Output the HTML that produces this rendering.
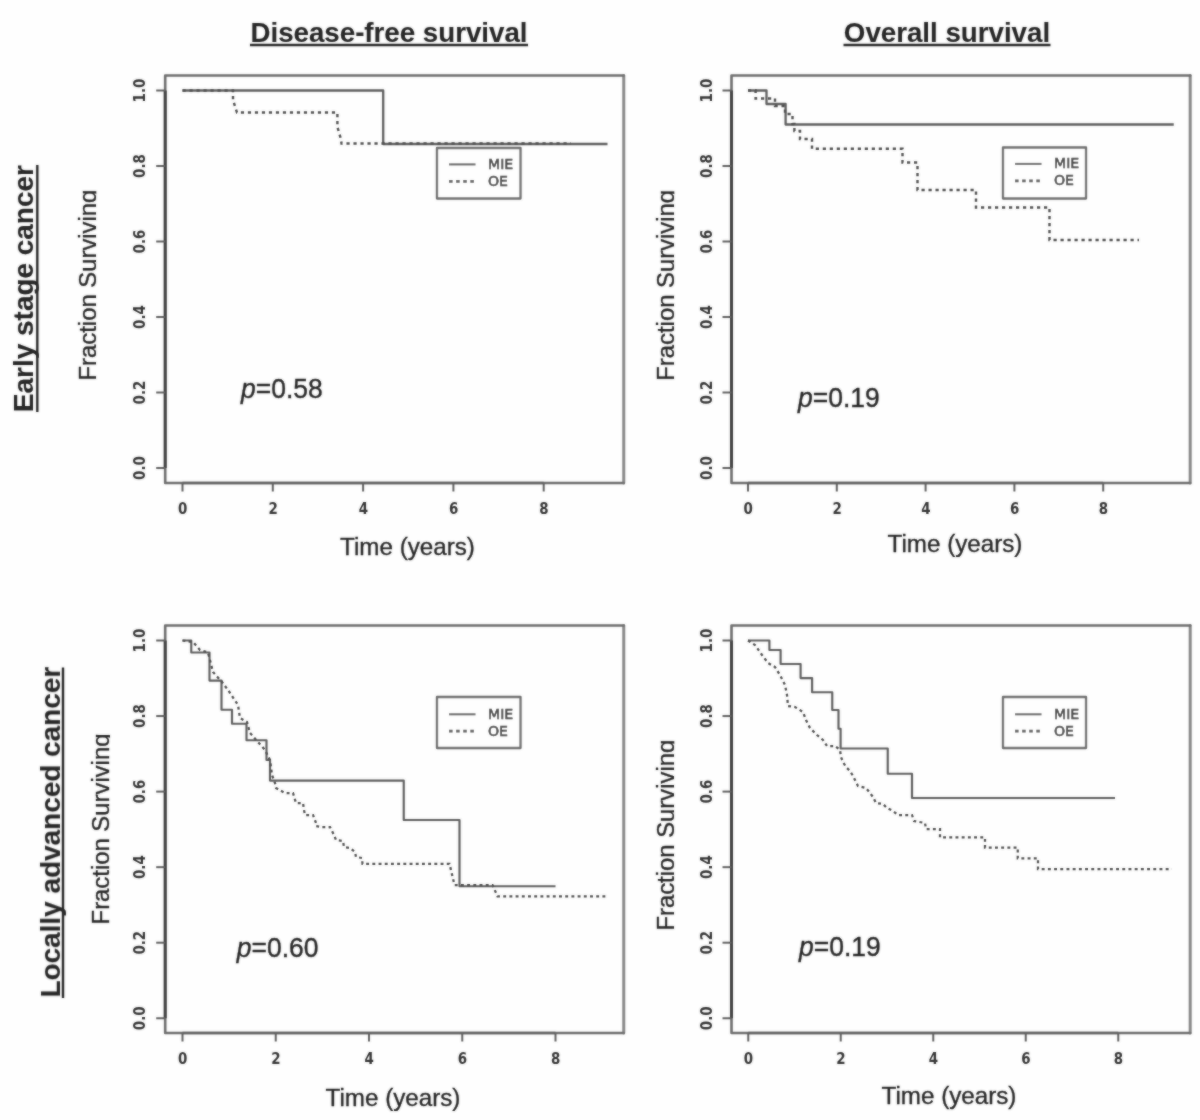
<!DOCTYPE html>
<html lang="en"><head><meta charset="utf-8"><title>Survival curves</title>
<style>
html,body{margin:0;padding:0;background:#fff;}
body{width:1200px;height:1120px;overflow:hidden;}
svg{display:block;}
.t{font-family:"Liberation Sans",sans-serif;fill:#262626;stroke:#262626;stroke-width:0.35px;}
.b{font-weight:bold;stroke-width:0.1px;}
.tk{font-family:"DejaVu Sans","Liberation Sans",sans-serif;font-weight:bold;font-size:16px;fill:#333;}
.lg{font-family:"DejaVu Sans","Liberation Sans",sans-serif;font-size:14.1px;fill:#262626;stroke:#262626;stroke-width:0.5px;}
</style></head><body>
<svg width="1200" height="1120" viewBox="0 0 1200 1120">
<defs><filter id="soft" x="0" y="0" width="1200" height="1120" filterUnits="userSpaceOnUse"><feGaussianBlur in="SourceGraphic" stdDeviation="0.8" result="b"/><feComposite in="SourceGraphic" in2="b" operator="arithmetic" k1="0" k2="0.5" k3="0.5" k4="0"/></filter></defs>
<rect x="0" y="0" width="1200" height="1120" fill="#fefefe"/>
<g filter="url(#soft)">
<text class="t b" x="389" y="41.7" font-size="27.7" text-anchor="middle">Disease-free survival</text>
<line x1="250" y1="45" x2="528" y2="45" stroke="#262626" stroke-width="2.3"/>
<text class="t b" x="947" y="41.7" font-size="27.7" text-anchor="middle">Overall survival</text>
<line x1="843.5" y1="45" x2="1050.5" y2="45" stroke="#262626" stroke-width="2.3"/>
<text class="t b" transform="translate(33.4 288.6) rotate(-90)" font-size="27.95" text-anchor="middle">Early stage cancer</text>
<line x1="37.3" y1="165" x2="37.3" y2="412" stroke="#262626" stroke-width="2.4"/>
<text class="t b" transform="translate(60 832.2) rotate(-90)" font-size="27.95" text-anchor="middle">Locally advanced cancer</text>
<line x1="63" y1="667.5" x2="63" y2="998" stroke="#262626" stroke-width="2.4"/>
<g id="panel0">
<path d="M623.75 75.5 V483" fill="none" stroke="#878787" stroke-width="3" stroke-linecap="round"/>
<path d="M623.75 75.5 H165.2 V483 H623.75" fill="none" stroke="#6c6c6c" stroke-width="2.6" stroke-linejoin="round" stroke-linecap="round"/>
<line x1="165.2" y1="90.5" x2="165.2" y2="468" stroke="#3e3e3e" stroke-width="3"/>
<line x1="182.5" y1="483" x2="543.7" y2="483" stroke="#626262" stroke-width="2.7"/>
<line x1="156.2" y1="468.00" x2="165.2" y2="468.00" stroke="#5e5e5e" stroke-width="2"/>
<text class="tk" transform="translate(145.2 468.00) rotate(-90) scale(0.84 1)" text-anchor="middle">0.0</text>
<line x1="156.2" y1="392.50" x2="165.2" y2="392.50" stroke="#5e5e5e" stroke-width="2"/>
<text class="tk" transform="translate(145.2 392.50) rotate(-90) scale(0.84 1)" text-anchor="middle">0.2</text>
<line x1="156.2" y1="317.00" x2="165.2" y2="317.00" stroke="#5e5e5e" stroke-width="2"/>
<text class="tk" transform="translate(145.2 317.00) rotate(-90) scale(0.84 1)" text-anchor="middle">0.4</text>
<line x1="156.2" y1="241.50" x2="165.2" y2="241.50" stroke="#5e5e5e" stroke-width="2"/>
<text class="tk" transform="translate(145.2 241.50) rotate(-90) scale(0.84 1)" text-anchor="middle">0.6</text>
<line x1="156.2" y1="166.00" x2="165.2" y2="166.00" stroke="#5e5e5e" stroke-width="2"/>
<text class="tk" transform="translate(145.2 166.00) rotate(-90) scale(0.84 1)" text-anchor="middle">0.8</text>
<line x1="156.2" y1="90.50" x2="165.2" y2="90.50" stroke="#5e5e5e" stroke-width="2"/>
<text class="tk" transform="translate(145.2 90.50) rotate(-90) scale(0.84 1)" text-anchor="middle">1.0</text>
<line x1="182.50" y1="483" x2="182.50" y2="491.5" stroke="#5e5e5e" stroke-width="2"/>
<text class="tk" transform="translate(182.80 514.2) scale(0.84 1)" text-anchor="middle">0</text>
<line x1="272.80" y1="483" x2="272.80" y2="491.5" stroke="#5e5e5e" stroke-width="2"/>
<text class="tk" transform="translate(273.10 514.2) scale(0.84 1)" text-anchor="middle">2</text>
<line x1="363.10" y1="483" x2="363.10" y2="491.5" stroke="#5e5e5e" stroke-width="2"/>
<text class="tk" transform="translate(363.40 514.2) scale(0.84 1)" text-anchor="middle">4</text>
<line x1="453.40" y1="483" x2="453.40" y2="491.5" stroke="#5e5e5e" stroke-width="2"/>
<text class="tk" transform="translate(453.70 514.2) scale(0.84 1)" text-anchor="middle">6</text>
<line x1="543.70" y1="483" x2="543.70" y2="491.5" stroke="#5e5e5e" stroke-width="2"/>
<text class="tk" transform="translate(544.00 514.2) scale(0.84 1)" text-anchor="middle">8</text>
<path d="M182.50 90.50 L383.20 90.50 L383.20 144.00 L607.50 144.00" fill="none" stroke="#5c5c5c" stroke-width="2.3" stroke-linejoin="round"/>
<path d="M182.50 90.50 L233.00 90.50 L233.00 100.00 L237.00 112.50 L337.40 112.50 L337.40 127.00 L340.75 138.50 L341.50 143.50 L571.00 143.50" fill="none" stroke="#4a4a4a" stroke-width="2.40" stroke-dasharray="3.2 3.8"/>
<rect x="437" y="148" width="83.5" height="50.5" fill="#fefefe" stroke="#6a6a6a" stroke-width="2.3" stroke-linejoin="round"/>
<line x1="449" y1="164.4" x2="475.5" y2="164.4" stroke="#555" stroke-width="2"/>
<line x1="449" y1="181.3" x2="475.5" y2="181.3" stroke="#4a4a4a" stroke-width="2.7" stroke-dasharray="3.6 3.5"/>
<text class="lg" x="488" y="168.7">MIE</text>
<text class="lg" x="488" y="185.5">OE</text>
<clipPath id="c0"><rect x="65.7" y="165.05" width="30.6" height="240"/></clipPath>
<g clip-path="url(#c0)"><text class="t" transform="translate(95.7 285.05) rotate(-90)" font-size="23.85" text-anchor="middle">Fraction Surviving</text></g>
<text class="t" x="407.5" y="555.2" font-size="24.2" text-anchor="middle">Time (years)</text>
<text class="t" transform="translate(241 398.4) scale(1 1.06)" font-size="26.5"><tspan font-style="italic">p</tspan>=0.58</text>
</g>
<g id="panel1">
<path d="M1190.2 75.5 V483" fill="none" stroke="#878787" stroke-width="3" stroke-linecap="round"/>
<path d="M1190.2 75.5 H731.5 V483 H1190.2" fill="none" stroke="#6c6c6c" stroke-width="2.6" stroke-linejoin="round" stroke-linecap="round"/>
<line x1="731.5" y1="90.5" x2="731.5" y2="468" stroke="#3e3e3e" stroke-width="3"/>
<line x1="748" y1="483" x2="1103.2" y2="483" stroke="#626262" stroke-width="2.7"/>
<line x1="722.5" y1="468.00" x2="731.5" y2="468.00" stroke="#5e5e5e" stroke-width="2"/>
<text class="tk" transform="translate(711.5 468.00) rotate(-90) scale(0.84 1)" text-anchor="middle">0.0</text>
<line x1="722.5" y1="392.50" x2="731.5" y2="392.50" stroke="#5e5e5e" stroke-width="2"/>
<text class="tk" transform="translate(711.5 392.50) rotate(-90) scale(0.84 1)" text-anchor="middle">0.2</text>
<line x1="722.5" y1="317.00" x2="731.5" y2="317.00" stroke="#5e5e5e" stroke-width="2"/>
<text class="tk" transform="translate(711.5 317.00) rotate(-90) scale(0.84 1)" text-anchor="middle">0.4</text>
<line x1="722.5" y1="241.50" x2="731.5" y2="241.50" stroke="#5e5e5e" stroke-width="2"/>
<text class="tk" transform="translate(711.5 241.50) rotate(-90) scale(0.84 1)" text-anchor="middle">0.6</text>
<line x1="722.5" y1="166.00" x2="731.5" y2="166.00" stroke="#5e5e5e" stroke-width="2"/>
<text class="tk" transform="translate(711.5 166.00) rotate(-90) scale(0.84 1)" text-anchor="middle">0.8</text>
<line x1="722.5" y1="90.50" x2="731.5" y2="90.50" stroke="#5e5e5e" stroke-width="2"/>
<text class="tk" transform="translate(711.5 90.50) rotate(-90) scale(0.84 1)" text-anchor="middle">1.0</text>
<line x1="748.00" y1="483" x2="748.00" y2="491.5" stroke="#5e5e5e" stroke-width="2"/>
<text class="tk" transform="translate(748.30 514.2) scale(0.84 1)" text-anchor="middle">0</text>
<line x1="836.80" y1="483" x2="836.80" y2="491.5" stroke="#5e5e5e" stroke-width="2"/>
<text class="tk" transform="translate(837.10 514.2) scale(0.84 1)" text-anchor="middle">2</text>
<line x1="925.60" y1="483" x2="925.60" y2="491.5" stroke="#5e5e5e" stroke-width="2"/>
<text class="tk" transform="translate(925.90 514.2) scale(0.84 1)" text-anchor="middle">4</text>
<line x1="1014.40" y1="483" x2="1014.40" y2="491.5" stroke="#5e5e5e" stroke-width="2"/>
<text class="tk" transform="translate(1014.70 514.2) scale(0.84 1)" text-anchor="middle">6</text>
<line x1="1103.20" y1="483" x2="1103.20" y2="491.5" stroke="#5e5e5e" stroke-width="2"/>
<text class="tk" transform="translate(1103.50 514.2) scale(0.84 1)" text-anchor="middle">8</text>
<path d="M748.00 90.50 L766.50 90.50 L766.50 104.00 L785.60 104.00 L785.60 124.50 L1173.75 124.50" fill="none" stroke="#5c5c5c" stroke-width="2.3" stroke-linejoin="round"/>
<path d="M748.00 90.50 L755.60 90.50 L755.60 98.50 L775.00 98.50 L775.00 106.00 L785.00 106.00 L785.00 114.00 L792.50 114.00 L792.50 124.00 L794.40 124.00 L794.40 131.00 L800.00 131.00 L800.00 139.00 L812.00 139.00 L812.00 148.75 L902.50 148.75 L902.50 162.50 L917.50 162.50 L917.50 190.00 L976.00 190.00 L976.00 207.50 L1049.50 207.50 L1049.50 240.00 L1139.00 240.00" fill="none" stroke="#4a4a4a" stroke-width="2.40" stroke-dasharray="3.2 3.8"/>
<rect x="1003" y="147.5" width="83" height="51.0" fill="#fefefe" stroke="#6a6a6a" stroke-width="2.3" stroke-linejoin="round"/>
<line x1="1015" y1="163.9" x2="1041.5" y2="163.9" stroke="#555" stroke-width="2"/>
<line x1="1015" y1="180.8" x2="1041.5" y2="180.8" stroke="#4a4a4a" stroke-width="2.7" stroke-dasharray="3.6 3.5"/>
<text class="lg" x="1054" y="168.2">MIE</text>
<text class="lg" x="1054" y="185.0">OE</text>
<clipPath id="c1"><rect x="643.7" y="165.3" width="30.6" height="240"/></clipPath>
<g clip-path="url(#c1)"><text class="t" transform="translate(673.7 285.3) rotate(-90)" font-size="23.85" text-anchor="middle">Fraction Surviving</text></g>
<text class="t" x="955" y="551.5" font-size="24.2" text-anchor="middle">Time (years)</text>
<text class="t" transform="translate(798 407.2) scale(1 1.06)" font-size="26.5"><tspan font-style="italic">p</tspan>=0.19</text>
</g>
<g id="panel2">
<path d="M623.75 625.5 V1033" fill="none" stroke="#878787" stroke-width="3" stroke-linecap="round"/>
<path d="M623.75 625.5 H165.2 V1033 H623.75" fill="none" stroke="#6c6c6c" stroke-width="2.6" stroke-linejoin="round" stroke-linecap="round"/>
<line x1="165.2" y1="640.5" x2="165.2" y2="1018.25" stroke="#3e3e3e" stroke-width="3"/>
<line x1="182.5" y1="1033" x2="555.5" y2="1033" stroke="#626262" stroke-width="2.7"/>
<line x1="156.2" y1="1018.25" x2="165.2" y2="1018.25" stroke="#5e5e5e" stroke-width="2"/>
<text class="tk" transform="translate(145.2 1018.25) rotate(-90) scale(0.84 1)" text-anchor="middle">0.0</text>
<line x1="156.2" y1="942.70" x2="165.2" y2="942.70" stroke="#5e5e5e" stroke-width="2"/>
<text class="tk" transform="translate(145.2 942.70) rotate(-90) scale(0.84 1)" text-anchor="middle">0.2</text>
<line x1="156.2" y1="867.15" x2="165.2" y2="867.15" stroke="#5e5e5e" stroke-width="2"/>
<text class="tk" transform="translate(145.2 867.15) rotate(-90) scale(0.84 1)" text-anchor="middle">0.4</text>
<line x1="156.2" y1="791.60" x2="165.2" y2="791.60" stroke="#5e5e5e" stroke-width="2"/>
<text class="tk" transform="translate(145.2 791.60) rotate(-90) scale(0.84 1)" text-anchor="middle">0.6</text>
<line x1="156.2" y1="716.05" x2="165.2" y2="716.05" stroke="#5e5e5e" stroke-width="2"/>
<text class="tk" transform="translate(145.2 716.05) rotate(-90) scale(0.84 1)" text-anchor="middle">0.8</text>
<line x1="156.2" y1="640.50" x2="165.2" y2="640.50" stroke="#5e5e5e" stroke-width="2"/>
<text class="tk" transform="translate(145.2 640.50) rotate(-90) scale(0.84 1)" text-anchor="middle">1.0</text>
<line x1="182.50" y1="1033" x2="182.50" y2="1041.5" stroke="#5e5e5e" stroke-width="2"/>
<text class="tk" transform="translate(182.80 1064.2) scale(0.84 1)" text-anchor="middle">0</text>
<line x1="275.75" y1="1033" x2="275.75" y2="1041.5" stroke="#5e5e5e" stroke-width="2"/>
<text class="tk" transform="translate(276.05 1064.2) scale(0.84 1)" text-anchor="middle">2</text>
<line x1="369.00" y1="1033" x2="369.00" y2="1041.5" stroke="#5e5e5e" stroke-width="2"/>
<text class="tk" transform="translate(369.30 1064.2) scale(0.84 1)" text-anchor="middle">4</text>
<line x1="462.25" y1="1033" x2="462.25" y2="1041.5" stroke="#5e5e5e" stroke-width="2"/>
<text class="tk" transform="translate(462.55 1064.2) scale(0.84 1)" text-anchor="middle">6</text>
<line x1="555.50" y1="1033" x2="555.50" y2="1041.5" stroke="#5e5e5e" stroke-width="2"/>
<text class="tk" transform="translate(555.80 1064.2) scale(0.84 1)" text-anchor="middle">8</text>
<path d="M182.50 640.50 L191.25 640.50 L191.25 652.50 L209.50 652.50 L209.50 680.60 L221.50 680.60 L221.50 709.75 L232.00 709.75 L232.00 723.75 L246.50 723.75 L246.50 740.25 L266.50 740.25 L266.50 760.00 L270.00 760.00 L270.00 780.60 L403.75 780.60 L403.75 820.00 L459.50 820.00 L459.50 886.25 L555.50 886.25" fill="none" stroke="#5c5c5c" stroke-width="2.15" stroke-linejoin="round"/>
<path d="M182.50 640.50 L193.00 642.00 L200.00 650.00 L208.00 652.50 L213.00 672.00 L222.00 682.00 L228.00 690.00 L238.00 705.00 L240.00 718.00 L247.00 722.00 L250.00 733.00 L258.00 742.00 L265.00 750.00 L270.00 760.00 L272.00 775.00 L275.00 783.00 L276.00 788.00 L285.00 793.00 L293.00 793.00 L296.00 803.00 L303.00 803.00 L304.00 810.00 L305.00 815.00 L313.00 815.00 L316.00 823.00 L316.00 826.00 L322.00 827.00 L330.00 827.00 L334.00 835.00 L336.00 840.00 L343.00 841.00 L344.00 847.00 L350.00 848.00 L355.00 852.00 L356.00 857.00 L362.00 858.00 L362.50 863.75 L449.50 863.75 L454.50 885.00 L492.50 885.00 L497.50 896.25 L607.00 896.25" fill="none" stroke="#4a4a4a" stroke-width="2.25" stroke-dasharray="2.9 3.3"/>
<rect x="437" y="697" width="83.5" height="51" fill="#fefefe" stroke="#6a6a6a" stroke-width="2.3" stroke-linejoin="round"/>
<line x1="449" y1="714.3" x2="475.5" y2="714.3" stroke="#555" stroke-width="2"/>
<line x1="449" y1="731.2" x2="475.5" y2="731.2" stroke="#4a4a4a" stroke-width="2.7" stroke-dasharray="3.6 3.5"/>
<text class="lg" x="488" y="718.87">MIE</text>
<text class="lg" x="488" y="735.67">OE</text>
<clipPath id="c2"><rect x="79.4" y="709.0" width="30.6" height="240"/></clipPath>
<g clip-path="url(#c2)"><text class="t" transform="translate(109.4 829.0) rotate(-90)" font-size="23.85" text-anchor="middle">Fraction Surviving</text></g>
<text class="t" x="393" y="1105.5" font-size="24.2" text-anchor="middle">Time (years)</text>
<text class="t" transform="translate(236.7 956.7) scale(1 1.06)" font-size="26.5"><tspan font-style="italic">p</tspan>=0.60</text>
</g>
<g id="panel3">
<path d="M1190.2 625.5 V1033" fill="none" stroke="#878787" stroke-width="3" stroke-linecap="round"/>
<path d="M1190.2 625.5 H731.5 V1033 H1190.2" fill="none" stroke="#6c6c6c" stroke-width="2.6" stroke-linejoin="round" stroke-linecap="round"/>
<line x1="731.5" y1="640.5" x2="731.5" y2="1018.25" stroke="#3e3e3e" stroke-width="3"/>
<line x1="748.25" y1="1033" x2="1118.25" y2="1033" stroke="#626262" stroke-width="2.7"/>
<line x1="722.5" y1="1018.25" x2="731.5" y2="1018.25" stroke="#5e5e5e" stroke-width="2"/>
<text class="tk" transform="translate(711.5 1018.25) rotate(-90) scale(0.84 1)" text-anchor="middle">0.0</text>
<line x1="722.5" y1="942.70" x2="731.5" y2="942.70" stroke="#5e5e5e" stroke-width="2"/>
<text class="tk" transform="translate(711.5 942.70) rotate(-90) scale(0.84 1)" text-anchor="middle">0.2</text>
<line x1="722.5" y1="867.15" x2="731.5" y2="867.15" stroke="#5e5e5e" stroke-width="2"/>
<text class="tk" transform="translate(711.5 867.15) rotate(-90) scale(0.84 1)" text-anchor="middle">0.4</text>
<line x1="722.5" y1="791.60" x2="731.5" y2="791.60" stroke="#5e5e5e" stroke-width="2"/>
<text class="tk" transform="translate(711.5 791.60) rotate(-90) scale(0.84 1)" text-anchor="middle">0.6</text>
<line x1="722.5" y1="716.05" x2="731.5" y2="716.05" stroke="#5e5e5e" stroke-width="2"/>
<text class="tk" transform="translate(711.5 716.05) rotate(-90) scale(0.84 1)" text-anchor="middle">0.8</text>
<line x1="722.5" y1="640.50" x2="731.5" y2="640.50" stroke="#5e5e5e" stroke-width="2"/>
<text class="tk" transform="translate(711.5 640.50) rotate(-90) scale(0.84 1)" text-anchor="middle">1.0</text>
<line x1="748.25" y1="1033" x2="748.25" y2="1041.5" stroke="#5e5e5e" stroke-width="2"/>
<text class="tk" transform="translate(748.55 1064.2) scale(0.84 1)" text-anchor="middle">0</text>
<line x1="840.75" y1="1033" x2="840.75" y2="1041.5" stroke="#5e5e5e" stroke-width="2"/>
<text class="tk" transform="translate(841.05 1064.2) scale(0.84 1)" text-anchor="middle">2</text>
<line x1="933.25" y1="1033" x2="933.25" y2="1041.5" stroke="#5e5e5e" stroke-width="2"/>
<text class="tk" transform="translate(933.55 1064.2) scale(0.84 1)" text-anchor="middle">4</text>
<line x1="1025.75" y1="1033" x2="1025.75" y2="1041.5" stroke="#5e5e5e" stroke-width="2"/>
<text class="tk" transform="translate(1026.05 1064.2) scale(0.84 1)" text-anchor="middle">6</text>
<line x1="1118.25" y1="1033" x2="1118.25" y2="1041.5" stroke="#5e5e5e" stroke-width="2"/>
<text class="tk" transform="translate(1118.55 1064.2) scale(0.84 1)" text-anchor="middle">8</text>
<path d="M748.00 640.50 L769.40 640.50 L769.40 650.00 L780.60 650.00 L780.60 664.00 L800.60 664.00 L800.60 678.10 L812.10 678.10 L812.10 692.25 L832.25 692.25 L832.25 710.00 L838.50 710.00 L838.50 728.75 L840.60 728.75 L840.60 748.50 L887.75 748.50 L887.75 773.75 L912.00 773.75 L912.00 798.00 L1115.00 798.00" fill="none" stroke="#5c5c5c" stroke-width="2.15" stroke-linejoin="round"/>
<path d="M748.00 640.50 L755.00 645.00 L762.00 655.00 L768.00 663.00 L775.00 667.00 L780.00 675.00 L785.00 685.00 L787.00 695.00 L788.00 706.00 L795.00 707.00 L803.00 712.00 L806.00 720.00 L810.00 728.00 L817.00 735.00 L823.00 740.00 L827.00 746.00 L835.00 746.00 L840.00 750.00 L841.00 757.00 L843.00 762.00 L846.00 767.00 L850.00 771.00 L853.00 776.00 L856.00 782.00 L858.00 786.00 L866.00 788.00 L870.00 793.00 L873.00 797.00 L876.00 803.00 L883.00 804.00 L887.00 808.00 L893.00 811.00 L898.00 815.00 L912.00 815.00 L914.00 821.00 L925.00 823.00 L926.00 829.00 L940.00 829.00 L940.00 837.40 L985.00 837.40 L985.00 847.50 L1017.75 847.50 L1017.75 858.30 L1038.00 858.30 L1038.00 869.00 L1172.00 869.00" fill="none" stroke="#4a4a4a" stroke-width="2.25" stroke-dasharray="2.9 3.3"/>
<rect x="1003" y="697" width="83" height="51" fill="#fefefe" stroke="#6a6a6a" stroke-width="2.3" stroke-linejoin="round"/>
<line x1="1015" y1="714.3" x2="1041.5" y2="714.3" stroke="#555" stroke-width="2"/>
<line x1="1015" y1="731.2" x2="1041.5" y2="731.2" stroke="#4a4a4a" stroke-width="2.7" stroke-dasharray="3.6 3.5"/>
<text class="lg" x="1054" y="718.87">MIE</text>
<text class="lg" x="1054" y="735.67">OE</text>
<clipPath id="c3"><rect x="643.7" y="715.2" width="30.6" height="240"/></clipPath>
<g clip-path="url(#c3)"><text class="t" transform="translate(673.7 835.2) rotate(-90)" font-size="23.85" text-anchor="middle">Fraction Surviving</text></g>
<text class="t" x="949" y="1103.7" font-size="24.2" text-anchor="middle">Time (years)</text>
<text class="t" transform="translate(799 955.75) scale(1 1.06)" font-size="26.5"><tspan font-style="italic">p</tspan>=0.19</text>
</g>
</g>
</svg>
</body></html>
